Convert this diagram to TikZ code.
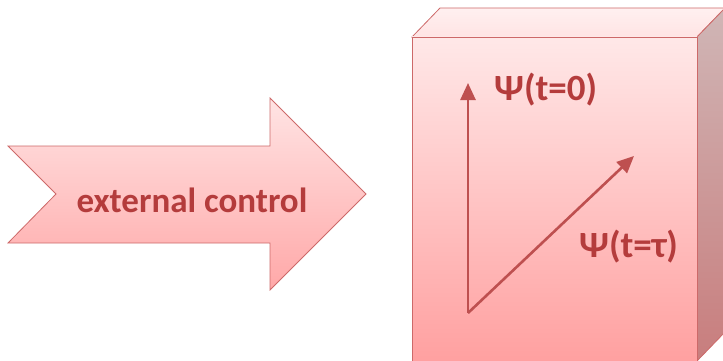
\documentclass[tikz,border=0pt]{standalone}
\usepackage{fontspec}
\setmainfont{Carlito}
\usetikzlibrary{arrows.meta}
\definecolor{txtred}{RGB}{180,60,60}
\definecolor{edgered}{RGB}{205,105,105}
\definecolor{vecred}{RGB}{190,80,80}
\tikzset{
  lbl/.style={text=txtred,font=\bfseries\fontsize{37}{37}\selectfont,inner sep=0pt},
  vec/.style={draw=vecred,line width=2.6pt,-{Triangle[length=17pt,width=15pt]}},
}
\begin{document}
\begin{tikzpicture}[x=1pt,y=-1pt]
\useasboundingbox (0,0) rectangle (723,361);
% big arrow
\shadedraw[draw=edgered,line width=0.8pt,top color={rgb,255:red,255;green,228;blue,228},bottom color={rgb,255:red,255;green,168;blue,168},line join=miter]
  (8,146) -- (270,146) -- (270,98) -- (366,194) -- (270,290) -- (270,243) -- (8,243) -- (56,194) -- cycle;
\node[lbl,font=\bfseries\fontsize{35}{35}\selectfont] (ctrl) at (192,200) {external control};
% box: top face
\shadedraw[draw=edgered,line width=0.8pt,top color={rgb,255:red,255;green,240;blue,240},bottom color={rgb,255:red,255;green,228;blue,228}]
  (412,37) -- (440,8) -- (725,8) -- (697,37) -- cycle;
% right face
\shadedraw[draw=edgered,line width=0.8pt,top color={rgb,255:red,208;green,182;blue,182},bottom color={rgb,255:red,200;green,125;blue,125}]
  (697,37) -- (725,8) -- (725,332) -- (697,361) -- cycle;
% front face
\shadedraw[draw=edgered,line width=0.8pt,top color={rgb,255:red,255;green,232;blue,232},bottom color={rgb,255:red,255;green,160;blue,160}]
  (412,37) rectangle (697,362);
% vectors
\coordinate (o) at (468,313);
\coordinate (v0) at (468,83);
\coordinate (vt) at (634,156);
\draw[vec] (o) -- (v0);
\draw[vec] (o) -- (vt);
\node[lbl,anchor=west] (psi0) at (494,90) {Ψ(t=0)};
\node[lbl,anchor=west] (psit) at (579,247) {Ψ(t=τ)};
\end{tikzpicture}
\end{document}
